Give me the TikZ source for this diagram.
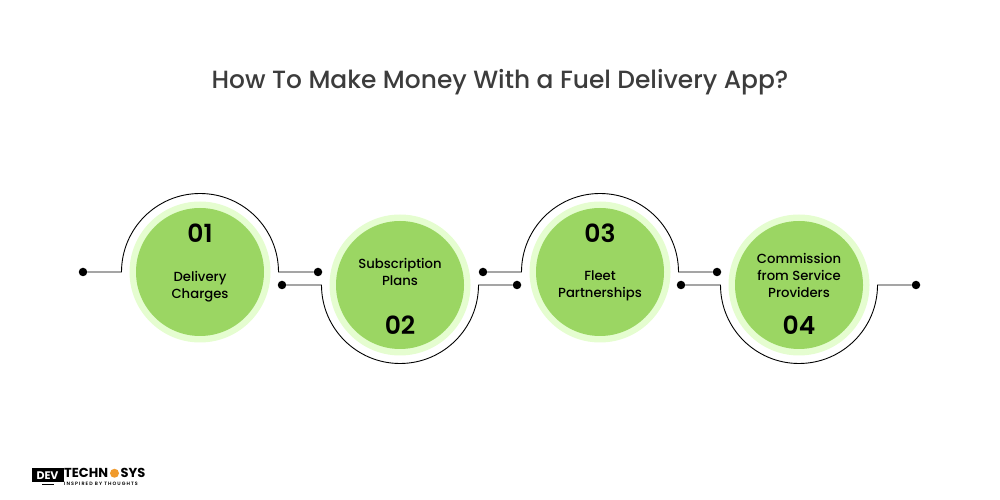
\documentclass[tikz,border=0pt]{standalone}
\usepackage{fontspec}
\setmainfont{Poppins}
\newfontfamily\medfont{Poppins Medium}
\newfontfamily\semifont{Poppins SemiBold}
\newfontfamily\tagfont[LetterSpace=22]{Poppins SemiBold}
\usetikzlibrary{positioning}
\definecolor{leaf}{HTML}{9BD663}
\definecolor{halo}{HTML}{E5FDD0}
\definecolor{inkgrey}{HTML}{3C3C3C}
\definecolor{gearorange}{HTML}{F09A2C}

\begin{document}
\begin{tikzpicture}[x=1pt,y=1pt,
    halo/.style={circle,fill=halo,minimum size=141pt,inner sep=0pt},
    disc/.style={circle,fill=leaf,minimum size=128pt,inner sep=0pt},
    dot/.style={circle,fill=black,minimum size=8.5pt,inner sep=0pt},
    num/.style={font=\semifont\fontsize{25}{28}\selectfont,text=black},
    lab/.style={font=\medfont\fontsize{13.2}{17}\selectfont,text=black,align=center},
    wire/.style={draw=black,line width=0.9pt},
    brand/.style={font=\fontsize{13}{13}\selectfont\bfseries,text=black,inner sep=0pt,text height=9.5pt,text depth=0pt}]
  \useasboundingbox (0,0) rectangle (1000,500);
  \node[font=\medfont\fontsize{24.9}{30}\selectfont,text=inkgrey] (title) at (500,417.5) {How To Make Money With a Fuel Delivery App?};
  % green discs
  \node[halo] (h1) at (200,228) {};
  \node[disc] (c1) at (h1) {};
  \node[halo] (h2) at (400,215) {};
  \node[disc] (c2) at (h2) {};
  \node[halo] (h3) at (600,228) {};
  \node[disc] (c3) at (h3) {};
  \node[halo] (h4) at (799,215) {};
  \node[disc] (c4) at (h4) {};
  % numbers and labels
  \node[num] (n1) at (200,267) {01};
  \node[lab] (t1) at (200,213.5) {Delivery\\Charges};
  \node[lab] (t2) at (400,228) {Subscription\\Plans};
  \node[num] (n2) at (400,175) {02};
  \node[num] (n3) at (600,267) {03};
  \node[lab] (t3) at (600,214.5) {Fleet\\Partnerships};
  \node[lab] (t4) at (799,225) {Commission\\from Service\\Providers};
  \node[num] (n4) at (799,175) {04};
  % end dots
  \node[dot] (d1a) at (83,228) {};
  \node[dot] (d1b) at (318,228) {};
  \node[dot] (d2a) at (282,215) {};
  \node[dot] (d2b) at (517,215) {};
  \node[dot] (d3a) at (483,228) {};
  \node[dot] (d3b) at (717,228) {};
  \node[dot] (d4a) at (681,215) {};
  \node[dot] (d4b) at (916,215) {};
  % wires round the discs
  \coordinate (w1) at (121.5,228);
  \coordinate (w2) at (321.5,215);
  \coordinate (w3) at (521.5,228);
  \coordinate (w4) at (720.5,215);
  \draw[wire] (d1a) -- (w1) arc[start angle=180,end angle=0,radius=78.5] -- (d1b);
  \draw[wire] (d2a) -- (w2) arc[start angle=180,end angle=360,radius=78.5] -- (d2b);
  \draw[wire] (d3a) -- (w3) arc[start angle=180,end angle=0,radius=78.5] -- (d3b);
  \draw[wire] (d4a) -- (w4) arc[start angle=180,end angle=360,radius=78.5] -- (d4b);
  % logo
  \node[fill=black,text=white,minimum width=32pt,minimum height=14pt,inner sep=0pt,font=\fontsize{11}{11}\selectfont\bfseries] (devbox) at (47.5,24.5) {DEV};
  \node[fill=black,minimum width=12pt,minimum height=1.5pt,inner sep=0pt,below=1pt of devbox] (devstand) {};
  \node[brand,anchor=base west] (techn) at (64,22) {TECHN};
  \node[circle,fill=gearorange,minimum size=9pt,inner sep=0pt,right=1.5pt of techn] (gear) {};
  \node[brand,anchor=base west] (sys) at (120.5,22) {SYS};
  \node[font=\tagfont\fontsize{4.8}{5}\selectfont,text=black,inner sep=0pt,text height=3.5pt,text depth=0pt,anchor=base west] (tagline) at (64,14.8) {INSPIRED BY THOUGHTS};
\end{tikzpicture}
\end{document}
